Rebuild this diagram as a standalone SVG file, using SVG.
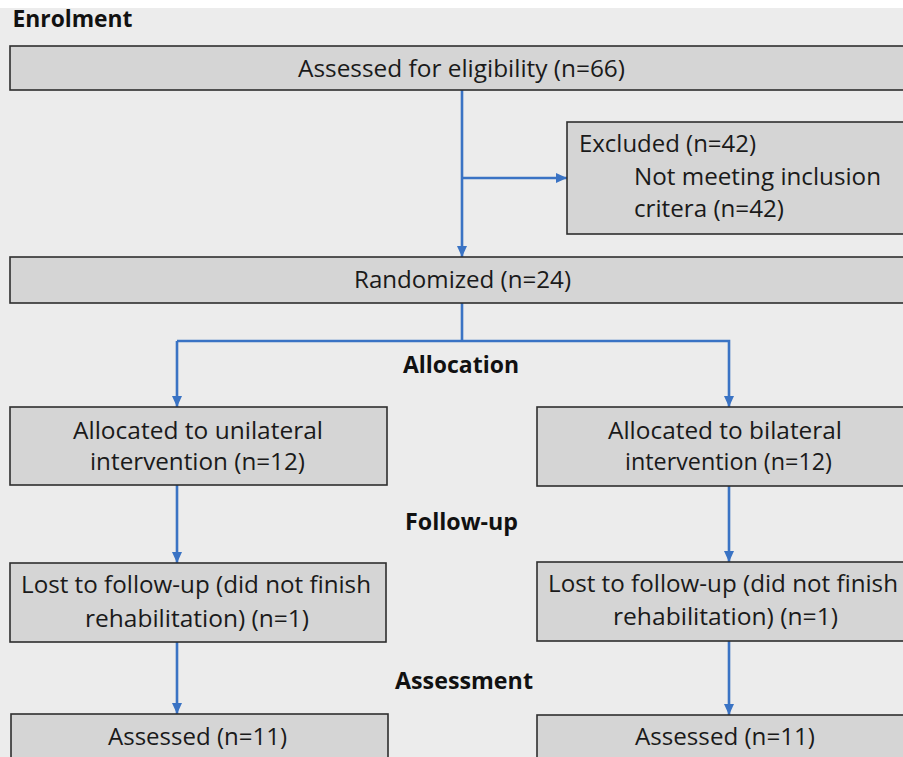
<svg xmlns="http://www.w3.org/2000/svg" width="903" height="757" viewBox="0 0 903 757">
<defs>
<marker id="ah" markerUnits="userSpaceOnUse" markerWidth="12" markerHeight="12" viewBox="0 0 12 12" refX="11" refY="6" orient="auto">
<path d="M0,1 L11,6 L0,11 z" fill="#3a73c4"/>
</marker>
<style>
.box{fill:#d5d5d5;stroke:#2e2e2e;stroke-width:1.6}
.t{font-family:"Open Sans","Noto Sans","Liberation Sans",sans-serif;font-size:24px;fill:#1a1a1a}
.h{font-family:"Open Sans","Noto Sans","Liberation Sans",sans-serif;font-size:23px;font-weight:bold;fill:#111}
.ln{fill:none;stroke:#3a73c4;stroke-width:2.6}
</style>
</defs>
<rect x="0" y="0" width="903" height="757" fill="#ececec"/>
<rect x="0" y="0" width="903" height="8" fill="#ffffff"/>

<g id="labels">
<text class="h" x="12.5" y="27" textLength="120" lengthAdjust="spacingAndGlyphs">Enrolment</text>
<text class="h" x="403" y="373" textLength="116" lengthAdjust="spacingAndGlyphs">Allocation</text>
<text class="h" x="405" y="530" textLength="113" lengthAdjust="spacingAndGlyphs">Follow-up</text>
<text class="h" x="395" y="689" textLength="138" lengthAdjust="spacingAndGlyphs">Assessment</text>
</g>

<g id="connectors">
<line class="ln" x1="462" y1="90" x2="462" y2="257" marker-end="url(#ah)"/>
<line class="ln" x1="462" y1="178" x2="567" y2="178" marker-end="url(#ah)"/>
<polyline class="ln" points="462,303 462,341"/>
<polyline class="ln" points="177,341 729,341 729,407" marker-end="url(#ah)"/>
<line class="ln" x1="177" y1="341" x2="177" y2="407" marker-end="url(#ah)"/>
<line class="ln" x1="177" y1="485" x2="177" y2="563" marker-end="url(#ah)"/>
<line class="ln" x1="729" y1="486" x2="729" y2="562" marker-end="url(#ah)"/>
<line class="ln" x1="177" y1="642" x2="177" y2="714" marker-end="url(#ah)"/>
<line class="ln" x1="729" y1="641" x2="729" y2="715" marker-end="url(#ah)"/>
</g>

<g id="eligibility">
<rect class="box" x="10" y="46" width="900" height="44"/>
<text class="t" x="298" y="77" textLength="327" lengthAdjust="spacingAndGlyphs">Assessed for eligibility (n=66)</text>
</g>

<g id="excluded">
<rect class="box" x="567" y="122" width="345" height="112"/>
<text class="t" x="579" y="152" textLength="177" lengthAdjust="spacingAndGlyphs">Excluded (n=42)</text>
<text class="t" x="634" y="185" textLength="247" lengthAdjust="spacingAndGlyphs">Not meeting inclusion</text>
<text class="t" x="634" y="217" textLength="150" lengthAdjust="spacingAndGlyphs">critera (n=42)</text>
</g>

<g id="randomized">
<rect class="box" x="10" y="257" width="900" height="46"/>
<text class="t" x="354" y="288" textLength="217" lengthAdjust="spacingAndGlyphs">Randomized (n=24)</text>
</g>

<g id="alloc-unilateral">
<rect class="box" x="10" y="407" width="377" height="78"/>
<text class="t" x="73" y="439" textLength="250" lengthAdjust="spacingAndGlyphs">Allocated to unilateral</text>
<text class="t" x="90" y="470" textLength="215" lengthAdjust="spacingAndGlyphs">intervention (n=12)</text>
</g>

<g id="alloc-bilateral">
<rect class="box" x="537" y="407" width="375" height="79"/>
<text class="t" x="608" y="439" textLength="234" lengthAdjust="spacingAndGlyphs">Allocated to bilateral</text>
<text class="t" x="625" y="470" textLength="207" lengthAdjust="spacingAndGlyphs">intervention (n=12)</text>
</g>

<g id="lost-unilateral">
<rect class="box" x="10" y="563" width="376" height="79"/>
<text class="t" x="21" y="593" textLength="350" lengthAdjust="spacingAndGlyphs">Lost to follow-up (did not finish</text>
<text class="t" x="85" y="627" textLength="224" lengthAdjust="spacingAndGlyphs">rehabilitation) (n=1)</text>
</g>

<g id="lost-bilateral">
<rect class="box" x="537" y="562" width="375" height="79"/>
<text class="t" x="548" y="592" textLength="350" lengthAdjust="spacingAndGlyphs">Lost to follow-up (did not finish</text>
<text class="t" x="613" y="625" textLength="225" lengthAdjust="spacingAndGlyphs">rehabilitation) (n=1)</text>
</g>

<g id="assessed-unilateral">
<rect class="box" x="11" y="714" width="377" height="60"/>
<text class="t" x="108" y="745" textLength="179" lengthAdjust="spacingAndGlyphs">Assessed (n=11)</text>
</g>

<g id="assessed-bilateral">
<rect class="box" x="537" y="715" width="375" height="60"/>
<text class="t" x="635" y="745" textLength="180" lengthAdjust="spacingAndGlyphs">Assessed (n=11)</text>
</g>
</svg>
